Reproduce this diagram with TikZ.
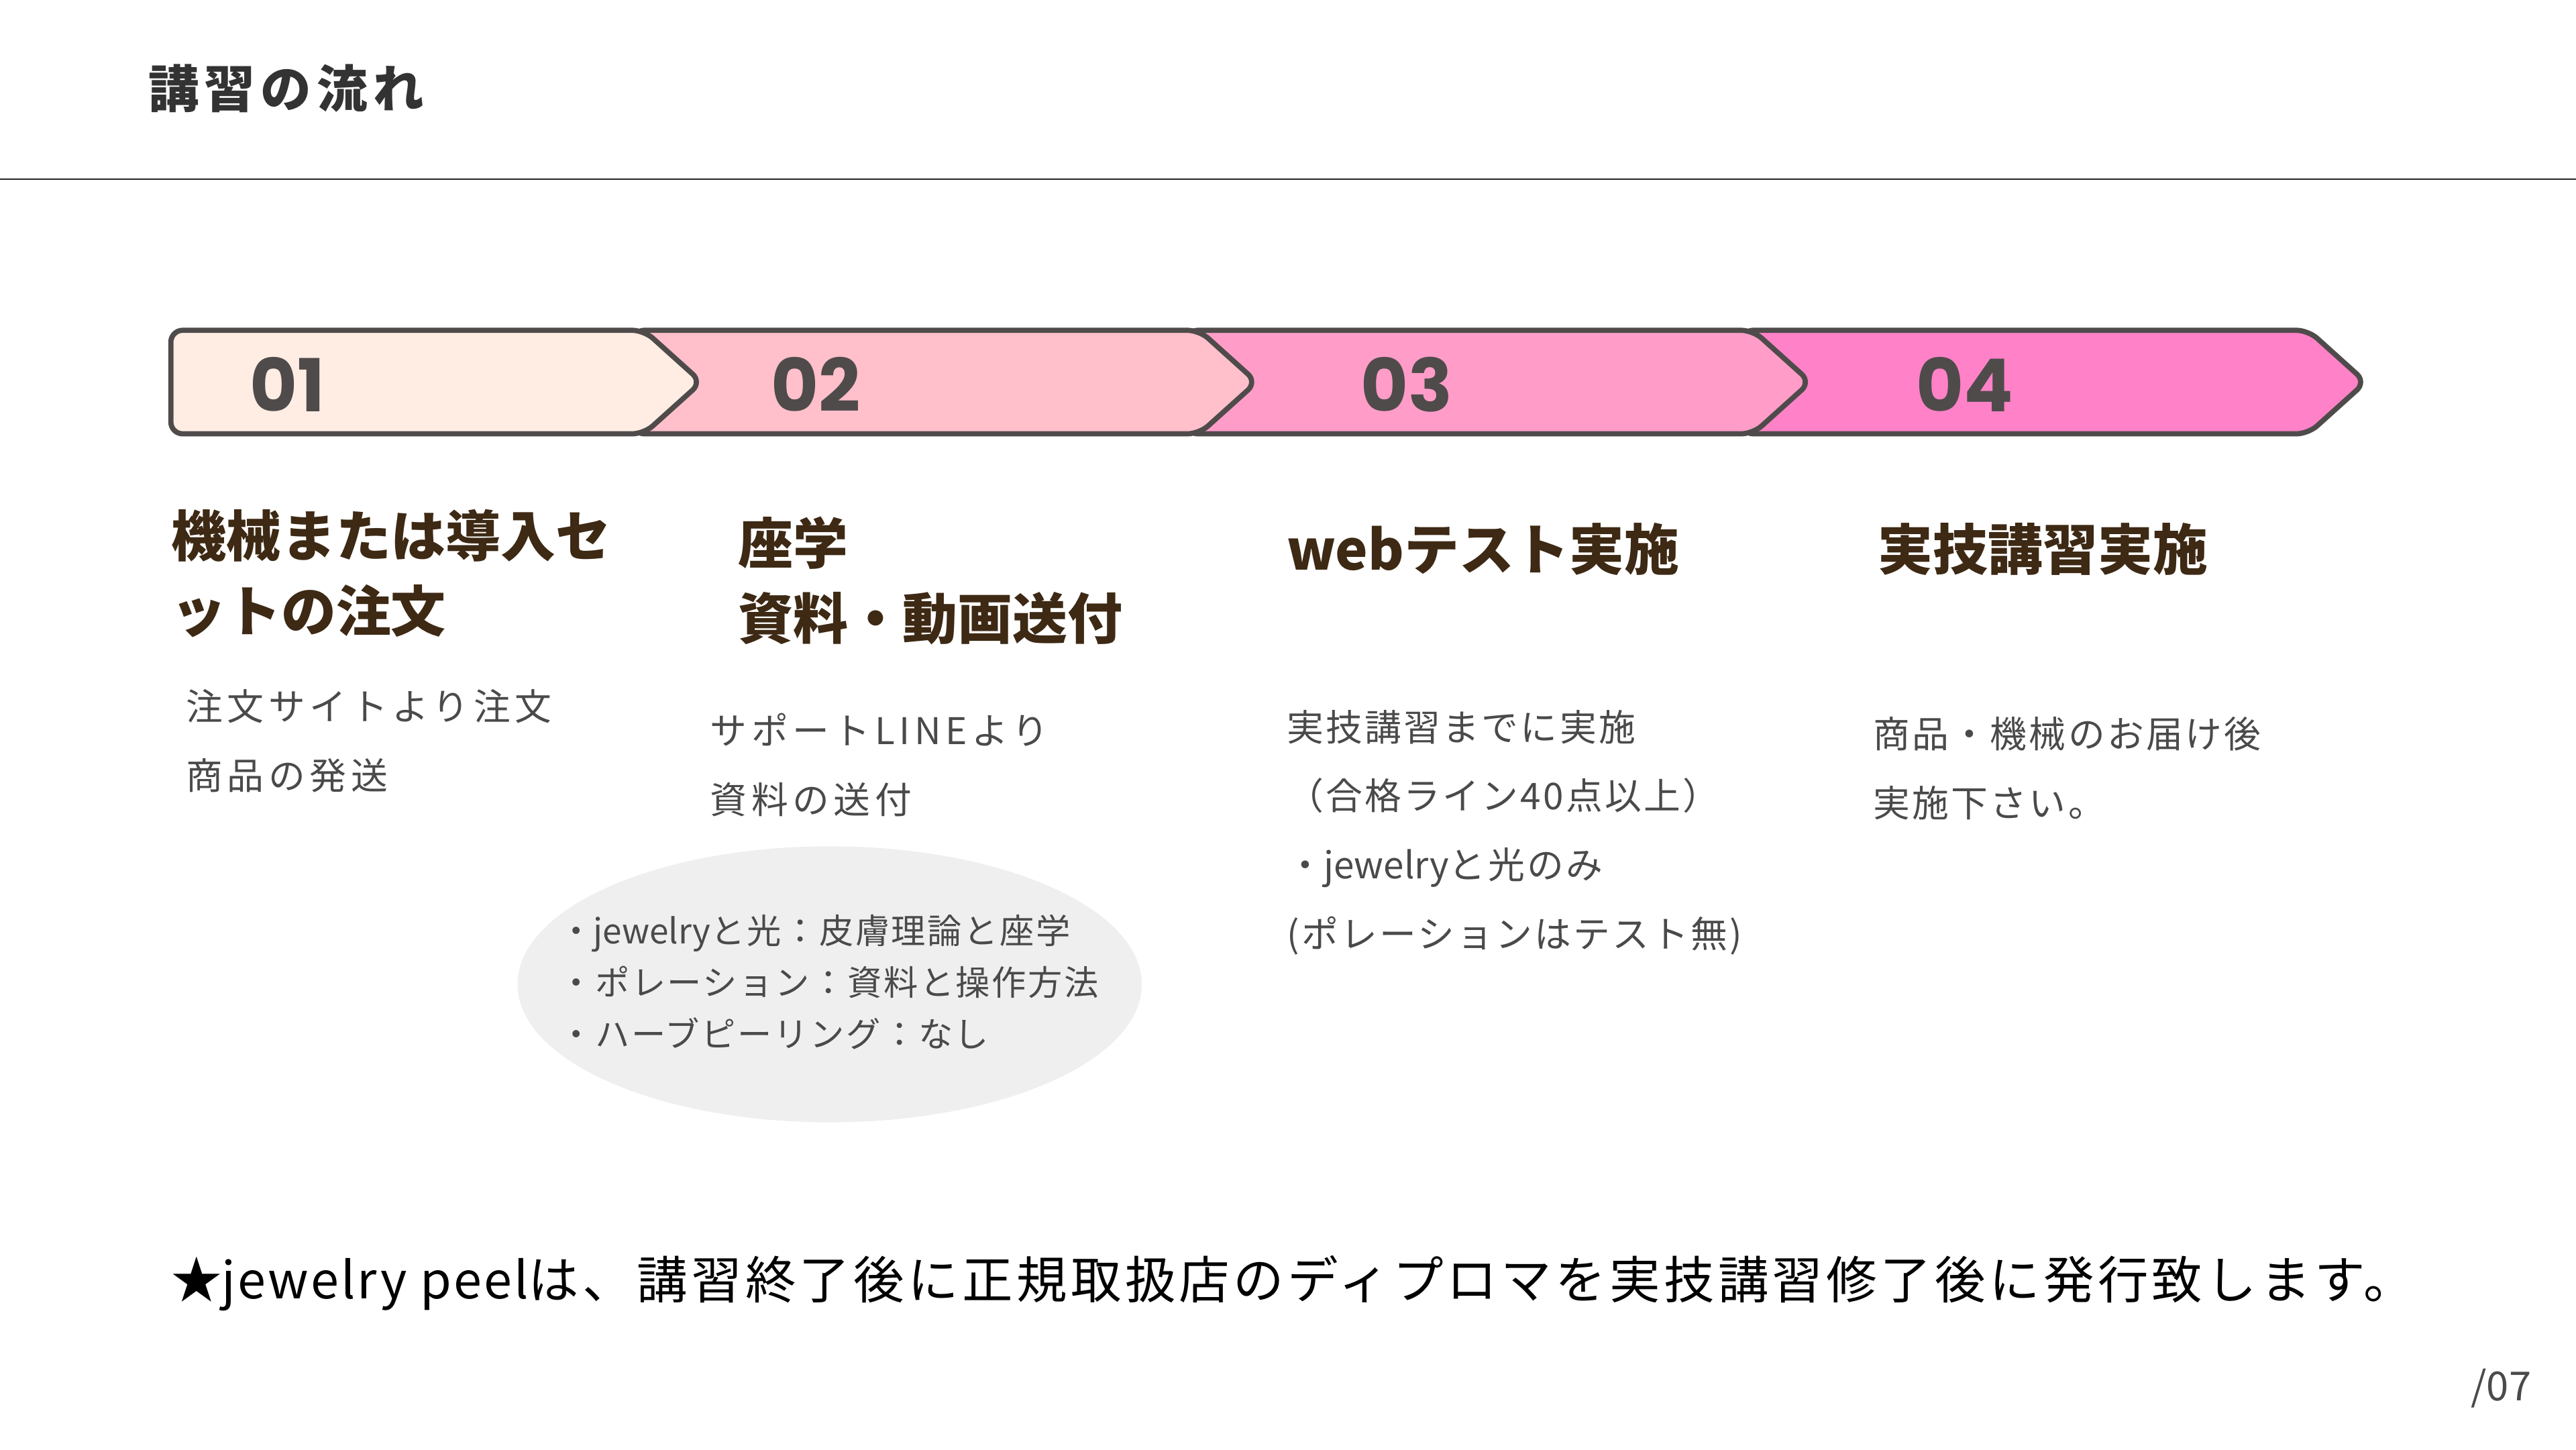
\documentclass[tikz,border=0pt]{standalone}
\usepackage{fontspec}
\setmainfont{Noto Sans CJK JP}
\newfontfamily\numfont{Poppins}
\usetikzlibrary{positioning}
\usepackage{xcolor}
\definecolor{stepA}{HTML}{FFEDE3}
\definecolor{stepB}{HTML}{FFC0CB}
\definecolor{stepC}{HTML}{FF9DC8}
\definecolor{stepD}{HTML}{FF82C8}
\definecolor{barline}{HTML}{4F4B4B}
\definecolor{headbrown}{HTML}{3D2914}
\definecolor{bodygray}{HTML}{4A4A4A}
\definecolor{bubble}{HTML}{EFEFEF}
\definecolor{titlegray}{HTML}{333333}

\begin{document}
\begin{tikzpicture}[x=0.02449cm, y=-0.02449cm,
  bar/.style={draw=barline, line width=2.2pt, rounded corners=5pt, line join=round},
  num/.style={anchor=west, inner sep=0, text=barline, font=\numfont\bfseries\fontsize{31}{31}\selectfont},
  head/.style={anchor=west, inner sep=0, align=left, text=headbrown, font=\bfseries\fontsize{23.3}{32}\selectfont},
  body/.style={anchor=west, inner sep=0, align=left, text=bodygray, font=\fontsize{15.6}{29.2}\selectfont\addfontfeatures{LetterSpace=12}},
  bodytight/.style={body, font=\fontsize{15.6}{29.2}\selectfont\addfontfeatures{LetterSpace=6}},
  note/.style={anchor=west, inner sep=0, align=left, text=bodygray, font=\fontsize{14.6}{21.9}\selectfont\addfontfeatures{LetterSpace=5}}]
\useasboundingbox (0,0) rectangle (1568,882);
\node[anchor=west, inner sep=0, text=titlegray, font=\bfseries\fontsize{21.5}{21.5}\selectfont\addfontfeatures{LetterSpace=11}] (title) at (90,54) {講習の流れ};
\coordinate (rulel) at (0,109);
\coordinate (ruler) at (1568,109);
\draw[black!85, line width=0.75pt] (rulel) -- (ruler);
% arrow bar, drawn from the right
\foreach \tip/\fillcol in {1440/stepD, 1102/stepC, 765/stepB}
  \draw[bar, fill=\fillcol] (\tip-380,201) -- (\tip-35,201) -- (\tip,232.5) -- (\tip-35,264) -- (\tip-380,264) -- cycle;
\draw[bar, fill=stepA] (104,201) -- (392,201) -- (427,232.5) -- (392,264) -- (104,264) -- cycle;
\foreach \x/\t [count=\i] in {152/01, 469/02, 828/03, 1166/04}
  \node[num] (num\i) at (\x,234) {\t};
% headings
\node[head] (head1) at (104,349) {機械または導入セ\\ットの注文};
\node[head] (head2) at (449,353.5) {座学\\資料・動画送付};
\node[head] (head3) at (783,334) {webテスト実施};
\node[head] (head4) at (1143,334) {実技講習実施};
% details
\node[body] (body1) at (113,451) {注文サイトより注文\\商品の発送};
\node[body] (body2) at (432,465.5) {サポートLINEより\\資料の送付};
\node[bodytight] (body3) at (783,506.5) {実技講習までに実施\\（合格ライン40点以上）\\・{\addfontfeatures{LetterSpace=0}jewelry}と光のみ\\(ポレーションはテスト無)};
\node[bodytight] (body4) at (1140,467.5) {商品・機械のお届け後\\実施下さい。};
\fill[bubble] (505,599) ellipse [x radius=4.653cm, y radius=2.057cm];
\node[note] (note) at (340,597.5) {・{\addfontfeatures{LetterSpace=0}jewelry}と光：皮膚理論と座学\\・ポレーション：資料と操作方法\\・ハーブピーリング：なし};
\node[anchor=west, inner sep=0, text=black, font=\fontsize{21.5}{21.5}\selectfont\addfontfeatures{LetterSpace=7}] (foot) at (104,781) {★{\addfontfeatures{LetterSpace=4}jewelry peel}は、講習終了後に正規取扱店のディプロマを実技講習修了後に発行致します。};
\node[anchor=east, inner sep=0, text=bodygray, font=\fontsize{17}{17}\selectfont] (page) at (1541,845) {/07};
\end{tikzpicture}
\end{document}
